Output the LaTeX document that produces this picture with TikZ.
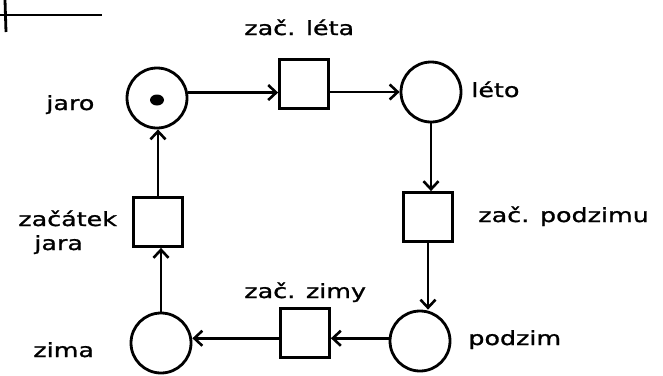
\documentclass[tikz,border=0pt]{standalone}
\usepackage{fontspec}
\newfontfamily\hand[FakeStretch=1.3,FakeBold=1.2]{DejaVu Sans}
\usetikzlibrary{arrows.meta,shapes.geometric}
\begin{document}
\begin{tikzpicture}[x=1pt,y=-1pt,
  line width=2.8pt,
  place/.style={draw,circle,minimum size=60pt,inner sep=0pt},
  trans/.style={draw,rectangle,minimum width=49pt,minimum height=49pt,inner sep=0pt},
  token/.style={fill,ellipse,minimum width=14pt,minimum height=11pt,inner sep=0pt},
  lbl/.style={anchor=base west,inner sep=0pt,font=\hand\fontsize{19.5}{22}\selectfont},
  arc/.style={-{Straight Barb[length=8pt,width=15pt,line width=2.6pt]}}]
\useasboundingbox (0,0) rectangle (663,375);
\fill[white] (0,0) rectangle (663,375);

% heading rule in the corner
\draw (0,15) -- (102,15);
\draw (5,0) -- (6,32);

% places
\node[place] (jaro)   at (157,98)  {};
\node[place] (leto)   at (431,92)  {};
\node[place] (podzim) at (420,341) {};
\node[place] (zima)   at (161,343) {};
\node[token] (tok)    at (157,100) {};

% transitions
\node[trans] (zl) at (304,84)  {};
\node[trans] (zp) at (428,217) {};
\node[trans] (zz) at (305,333) {};
\node[trans] (zj) at (158,222) {};

% labels
\node[lbl] (ljaro)   at (45,110)  {jaro};
\node[lbl] (lleto)   at (470,97)  {léto};
\node[lbl] (lpodzim) at (467,345) {podzim};
\node[lbl] (lzima)   at (32,357)  {zima};
\node[lbl] (lzl)     at (243,35)  {zač. léta};
\node[lbl] (lzp)     at (477,222) {zač. podzimu};
\node[lbl] (lzz)     at (243,298) {zač. zimy};
\node[lbl] (lzj1)    at (17,226)  {začátek};
\node[lbl] (lzj2)    at (33,250)  {jara};

% arcs
\draw[arc] (jaro.10) -- (zl.west |- jaro.10);
\draw[arc] (zl.east |- leto.west) -- (leto.west);
\draw[arc] (leto.south) -- (leto.south |- zp.north);
\draw[arc] (zp.south) -- (zp.south |- podzim.north);
\draw[arc] (podzim.175) -- (zz.east |- podzim.175);
\draw[arc] (zz.west |- podzim.175) -- (zima.east |- podzim.175);
\draw[arc] (zima.north) -- (zima.north |- zj.south);
\draw[arc] (zj.north) -- (zj.north |- jaro.south);
\end{tikzpicture}
\end{document}
